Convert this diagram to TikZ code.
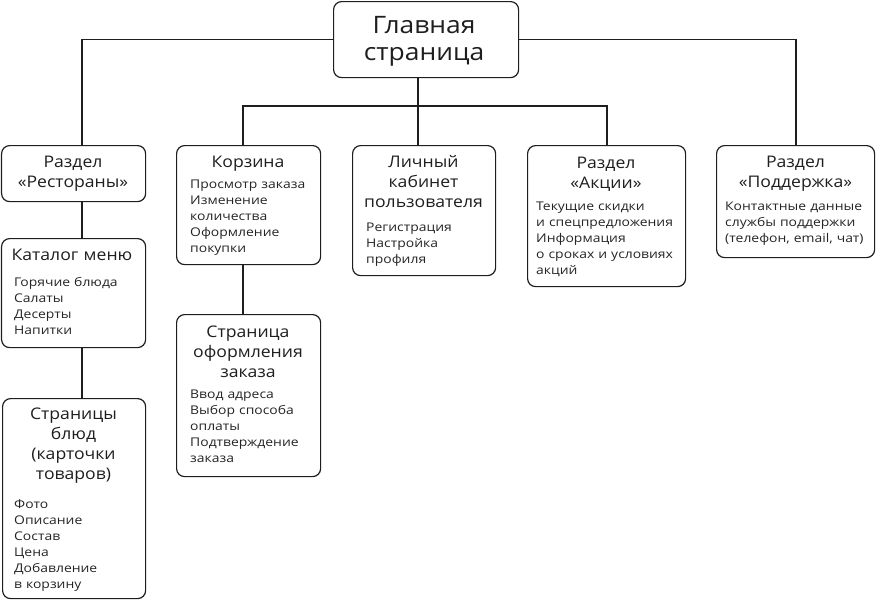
\documentclass[tikz,border=0pt]{standalone}
\usepackage{fontspec}
\setmainfont[FakeStretch=1.1]{Open Sans}
\newfontfamily\bodyfont[FakeStretch=1.16]{Open Sans}
\usetikzlibrary{calc}
\definecolor{ink}{HTML}{1E1E1E}
\definecolor{txt}{HTML}{242424}
\begin{document}
\begin{tikzpicture}[x=1pt,y=-1pt,
 box/.style={draw=ink, line width=1.2pt, rounded corners=8pt, inner sep=0pt, anchor=north west},
 ttl/.style={anchor=base, inner sep=0pt, text width=170pt, align=center, text=ink, font=\fontsize{16}{20}\selectfont},
 bigttl/.style={ttl, font=\fontsize{24}{27}\selectfont},
 bdy/.style={anchor=base west, inner sep=0pt, text width=160pt, align=left, text=txt, font=\bodyfont\fontsize{12}{16}\selectfont},
 conn/.style={draw=ink, line width=1.2pt}]
\useasboundingbox (0,0) rectangle (876,600);

% boxes
\node[box, minimum width=185pt, minimum height=76pt] (main) at (333,1) {};
\node[box, minimum width=144pt, minimum height=56pt] (rest) at (1,145) {};
\node[box, minimum width=144pt, minimum height=119pt] (korz) at (176,145) {};
\node[box, minimum width=143pt, minimum height=130pt] (lk) at (352,145) {};
\node[box, minimum width=158pt, minimum height=141pt] (akc) at (527,145) {};
\node[box, minimum width=158pt, minimum height=112pt] (podd) at (716,145) {};
\node[box, minimum width=144pt, minimum height=109pt] (kat) at (1,238) {};
\node[box, minimum width=143pt, minimum height=200pt] (blyud) at (2,398) {};
\node[box, minimum width=144pt, minimum height=162pt] (oform) at (176,314) {};

% texts
\node[bigttl] (tmain) at (424,33) {Главная\\страница};
\node[ttl] (trest) at (73,167) {Раздел\\«Рестораны»};
\node[ttl] (tkorz) at (248,167) {Корзина};
\node[bdy] (bkorz) at (190,188) {Просмотр заказа\\Изменение\\количества\\Оформление\\покупки};
\node[ttl] (tlk) at (423.5,167) {Личный\\кабинет\\пользователя};
\node[bdy] (blk) at (366,231) {Регистрация\\Настройка\\профиля};
\node[ttl] (takc) at (606,168) {Раздел\\«Акции»};
\node[bdy] (bakc) at (536,210) {Текущие скидки\\и спецпредложения\\Информация\\о сроках и условиях\\акций};
\node[ttl] (tpodd) at (795.5,167) {Раздел\\«Поддержка»};
\node[bdy] (bpodd) at (725,210) {Контактные данные\\службы поддержки\\(телефон, email, чат)};
\node[ttl] (tkat) at (72,260) {Каталог меню};
\node[bdy] (bkat) at (14,286) {Горячие блюда\\Салаты\\Десерты\\Напитки};
\node[ttl] (tblyud) at (73.5,419) {Страницы\\блюд\\(карточки\\товаров)};
\node[bdy] (bblyud) at (14,508) {Фото\\Описание\\Состав\\Цена\\Добавление\\в корзину};
\node[ttl] (toform) at (248,337) {Страница\\оформления\\заказа};
\node[bdy] (boform) at (190,398) {Ввод адреса\\Выбор способа\\оплаты\\Подтверждение\\заказа};

% connectors
\draw[conn] (main.west) -| ($(rest.north west)+(81,0)$);
\draw[conn] (main.east) -| ($(podd.north west)+(80,0)$);
\draw[conn] ($(main.south west)+(85,0)$) -- ($(lk.north west)+(66,0)$);
\draw[conn] ($(korz.north west)+(67,0)$) |- ($(akc.north west)+(80,-39)$) -- ($(akc.north west)+(80,0)$);
\draw[conn] ($(rest.south west)+(81,0)$) -- ($(kat.north west)+(81,0)$);
\draw[conn] ($(kat.south west)+(81,0)$) -- ($(blyud.north west)+(80,0)$);
\draw[conn] ($(korz.south west)+(67,0)$) -- ($(oform.north west)+(67,0)$);
\end{tikzpicture}
\end{document}
